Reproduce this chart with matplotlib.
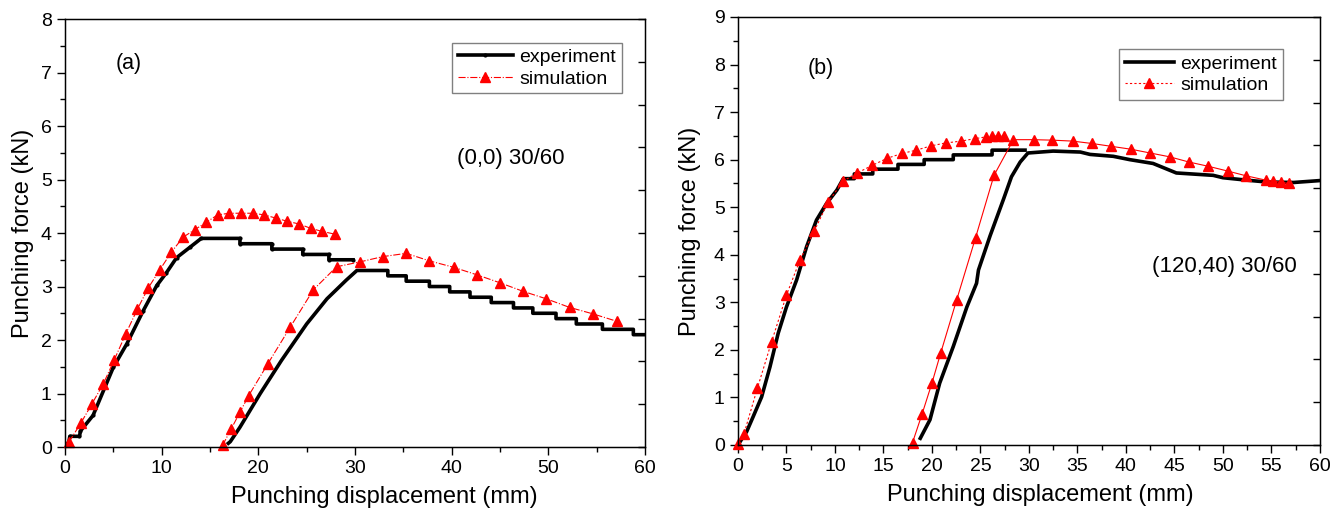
import numpy as np
import matplotlib
matplotlib.use("Agg")
import matplotlib.pyplot as plt
from matplotlib.ticker import MultipleLocator

plt.rcParams['font.family'] = ['Liberation Sans', 'DejaVu Sans']

# ---- panel (a) data ----
a_exp1_x = [0, 0.4, 0.5, 1.5, 1.6, 2.9, 5.0, 6.4, 8.1, 9.5, 10.5, 11.55, 12.9, 14.1, 18.1, 18.1,
            21.4, 21.4, 24.6, 24.6, 27.3, 27.3, 29.8]
a_exp1_y = [0, 0.1, 0.2, 0.2, 0.3, 0.59, 1.49, 1.93, 2.55, 3.02, 3.26, 3.54, 3.73, 3.9, 3.9, 3.8,
            3.8, 3.7, 3.7, 3.6, 3.6, 3.5, 3.5]
a_exp2_x = [16.9, 17.1, 18.1, 20.2, 22.4, 25.0, 27.1, 29.1, 30.2, 33.4, 33.4, 35.3, 35.3, 37.7, 37.7,
            39.8, 39.8, 41.9, 41.9, 44.1, 44.1, 46.4, 46.4, 48.4, 48.4, 50.8, 50.8, 52.9, 52.9,
            55.6, 55.6, 58.8, 58.8, 60]
a_exp2_y = [0.07, 0.1, 0.37, 1.0, 1.62, 2.3, 2.77, 3.12, 3.3, 3.3, 3.2, 3.2, 3.1, 3.1, 3.0,
            3.0, 2.9, 2.9, 2.8, 2.8, 2.7, 2.7, 2.6, 2.6, 2.5, 2.5, 2.4, 2.4, 2.3,
            2.3, 2.2, 2.2, 2.1, 2.1]
a_sim1_x = [0.4, 1.65, 2.8, 3.96, 5.1, 6.3, 7.5, 8.6, 9.8, 11.0, 12.2, 13.4, 14.6, 15.8, 17.0,
            18.2, 19.4, 20.6, 21.8, 23.0, 24.2, 25.4, 26.6, 27.9]
a_sim1_y = [0.09, 0.45, 0.81, 1.18, 1.63, 2.12, 2.58, 2.97, 3.31, 3.64, 3.92, 4.06, 4.2, 4.34, 4.37,
            4.37, 4.37, 4.34, 4.28, 4.22, 4.17, 4.09, 4.03, 3.98]
a_sim2_x = [16.3, 17.2, 18.1, 19.0, 21.0, 23.3, 25.7, 28.1, 30.5, 32.9, 35.3, 37.7, 40.2, 42.6,
            45.0, 47.4, 49.8, 52.2, 54.6, 57.1]
a_sim2_y = [0.03, 0.34, 0.65, 0.96, 1.56, 2.24, 2.94, 3.37, 3.46, 3.56, 3.62, 3.48, 3.36, 3.22,
            3.07, 2.91, 2.77, 2.61, 2.49, 2.35]

# ---- panel (b) data ----
b_exp1_x = [0, 0.9, 1.58, 2.44, 3.3, 4.15, 5.0, 6.05, 7.08, 8.1, 9.14, 10.2, 10.86, 12.0, 12.0,
            13.9, 13.9, 16.5, 16.5, 19.2, 19.2, 22.2, 22.2, 26.2, 26.2, 29.6]
b_exp1_y = [0, 0.28, 0.6, 1.01, 1.64, 2.35, 2.9, 3.47, 4.17, 4.73, 5.08, 5.36, 5.6, 5.6, 5.7,
            5.7, 5.8, 5.8, 5.9, 5.9, 6.0, 6.0, 6.1, 6.1, 6.2, 6.2]
b_exp2_x = [18.8, 19.8, 20.8, 22.2, 23.6, 24.6, 24.8, 26.0, 27.4, 28.2, 29.1, 29.9, 32.5, 35.3,
            36.3, 38.7, 40.4, 42.8, 45.2, 49.0, 50.0, 52.4, 54.5, 57.3, 60]
b_exp2_y = [0.14, 0.53, 1.3, 2.07, 2.9, 3.4, 3.68, 4.4, 5.18, 5.64, 5.95, 6.14, 6.18, 6.16,
            6.11, 6.07, 6.0, 5.92, 5.72, 5.67, 5.62, 5.57, 5.53, 5.52, 5.56]
b_sim1_x = [0, 0.6, 2.0, 3.47, 5.0, 6.4, 7.87, 9.3, 10.86, 12.3, 13.85, 15.4, 16.9, 18.4, 19.9,
            21.4, 23.0, 24.4, 25.6, 26.2, 26.8, 27.4]
b_sim1_y = [0.02, 0.22, 1.19, 2.17, 3.15, 3.89, 4.5, 5.11, 5.55, 5.72, 5.88, 6.03, 6.13, 6.2, 6.29,
            6.35, 6.39, 6.44, 6.48, 6.49, 6.5, 6.5]
b_sim2_x = [18.0, 19.0, 20.0, 20.9, 22.55, 24.5, 26.4, 28.4, 30.5, 32.4, 34.5, 36.5, 38.5, 40.5,
            42.5, 44.5, 46.5, 48.5, 50.5, 52.4, 54.4, 55.2, 56.0, 56.8]
b_sim2_y = [0.05, 0.66, 1.3, 1.93, 3.05, 4.36, 5.67, 6.42, 6.42, 6.41, 6.39, 6.34, 6.28, 6.22,
            6.14, 6.06, 5.95, 5.86, 5.76, 5.66, 5.57, 5.55, 5.52, 5.5]

RED = '#ff0000'
fig = plt.figure(figsize=(13.4, 5.15), dpi=100)
ax_a = fig.add_axes([0.0485, 0.132, 0.4328, 0.831])
ax_b = fig.add_axes([0.5507, 0.136, 0.4343, 0.831])


def style_axis(ax, ymax, xmajor, xminor, xlab_x, ylab_x):
    ax.set_xlim(0, 60)
    ax.set_ylim(0, ymax)
    ax.xaxis.set_major_locator(MultipleLocator(xmajor))
    ax.xaxis.set_minor_locator(MultipleLocator(xminor))
    ax.yaxis.set_major_locator(MultipleLocator(1))
    ax.yaxis.set_minor_locator(MultipleLocator(0.5))
    ax.tick_params(which='major', direction='out', length=6, width=1, labelsize=14)
    ax.tick_params(which='minor', direction='out', length=3.5, width=1)
    for s in ax.spines.values():
        s.set_linewidth(1.0)
    ax.set_xlabel('Punching displacement (mm)', fontsize=17)
    ax.set_ylabel('Punching force (kN)', fontsize=17)
    ax.xaxis.set_label_coords(xlab_x, -0.092)
    ax.yaxis.set_label_coords(ylab_x, 0.5)
    # inward ticks on the right frame
    tw = ax.twinx()
    tw.set_ylim(0, 10)
    tw.set_yticks(np.arange(0, 11))
    tw.tick_params(direction='in', length=5, width=1, labelright=False)


# panel (a)
ax_a.plot(a_exp1_x, a_exp1_y, color='black', lw=2.6, marker='o', ms=2, label='experiment')
ax_a.plot(a_exp2_x, a_exp2_y, color='black', lw=2.6)
ax_a.plot(a_sim1_x, a_sim1_y, color=RED, lw=0.8, ls='-.', marker='^', ms=7,
          clip_on=False, label='simulation')
ax_a.plot(a_sim2_x, a_sim2_y, color=RED, lw=0.8, ls='-.', marker='^', ms=7, clip_on=False)
ax_a.text(6.6, 7.16, '(a)', fontsize=15.5, ha='center', va='center')
ax_a.text(40.6, 5.4, '(0,0) 30/60', fontsize=16, ha='left', va='center')
leg = ax_a.legend(loc='upper left', bbox_to_anchor=(0.668, 0.945), fontsize=14,
                  frameon=True, fancybox=False, edgecolor='#808080', framealpha=1,
                  handlelength=2.8, handletextpad=0.35, borderpad=0.3, labelspacing=0.2,
                  borderaxespad=0)
leg.get_frame().set_linewidth(1.0)
style_axis(ax_a, 8, 10, 5, 0.55, -0.054)

# panel (b)
ax_b.plot(b_exp1_x, b_exp1_y, color='black', lw=2.6, label='experiment')
ax_b.plot(b_exp2_x, b_exp2_y, color='black', lw=2.6)
ax_b.plot(b_sim1_x, b_sim1_y, color=RED, lw=0.8, ls=(0, (2, 2)), marker='^', ms=7,
          clip_on=False, label='simulation')
ax_b.plot(b_sim2_x, b_sim2_y, color=RED, lw=0.8, ls='-', marker='^', ms=7, clip_on=False)
ax_b.text(8.5, 7.92, '(b)', fontsize=15.5, ha='center', va='center')
ax_b.text(42.7, 3.75, '(120,40) 30/60', fontsize=16, ha='left', va='center')
leg = ax_b.legend(loc='upper left', bbox_to_anchor=(0.655, 0.925), fontsize=14,
                  frameon=True, fancybox=False, edgecolor='#808080', framealpha=1,
                  handlelength=2.5, handletextpad=0.35, borderpad=0.3, labelspacing=0.2,
                  borderaxespad=0)
leg.get_frame().set_linewidth(1.0)
style_axis(ax_b, 9, 5, 2.5, 0.52, -0.063)

fig.savefig('out.png', dpi=100)
